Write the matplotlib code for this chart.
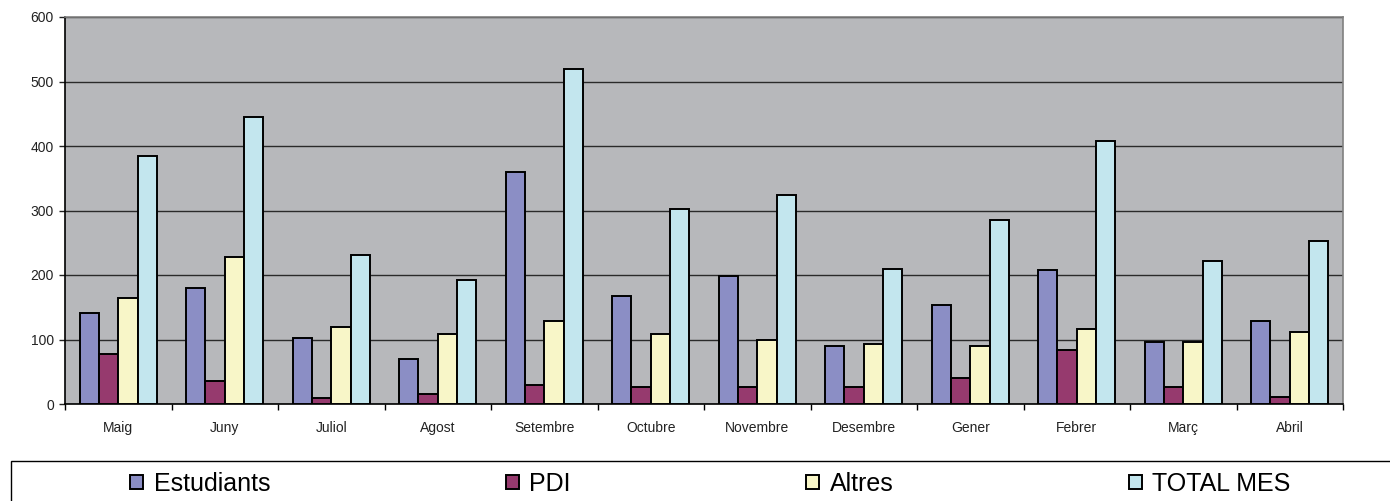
import matplotlib
matplotlib.use("Agg")
import matplotlib.pyplot as plt
import matplotlib.patches as patches
import numpy as np

plt.rcParams['font.family'] = ['Liberation Sans', 'DejaVu Sans']

mesos = ['Maig', 'Juny', 'Juliol', 'Agost', 'Setembre', 'Octubre', 'Novembre',
         'Desembre', 'Gener', 'Febrer', 'Març', 'Abril']
estudiants = [141, 180, 102, 69, 360, 168, 198, 90, 153, 207, 96, 129]
pdi = [78, 36, 9, 15, 30, 27, 27, 27, 41, 84, 27, 11]
altres = [165, 228, 120, 108, 128, 108, 99, 93, 90, 117, 96, 111]
total_mes = [384, 445, 231, 192, 519, 303, 324, 210, 285, 408, 222, 252]

series = [('Estudiants', estudiants, '#8b8ec5'),
          ('PDI', pdi, '#963a6e'),
          ('Altres', altres, '#f8f6c8'),
          ('TOTAL MES', total_mes, '#c3e6ee')]

fig = plt.figure(figsize=(13.9, 5.01), dpi=100)
ax = fig.add_axes([65/1390, 97/501, (1343-65)/1390, (404-17)/501])
ax.set_facecolor('#b7b8bb')

x = np.arange(len(mesos))
w = 0.181
for i, (nom, vals, col) in enumerate(series):
	ax.bar(x + (i - 1.5)*w, vals, w, color=col, edgecolor='black', linewidth=1.4,
	       label=nom, zorder=3)

ax.set_xlim(-0.5, len(mesos) - 0.5)
ax.set_ylim(0, 600)
ax.set_yticks(range(0, 601, 100))
ax.yaxis.grid(True, color='#2a2a2a', linewidth=1.0, zorder=1)
ax.set_axisbelow(True)

ax.set_xticks(x)
ax.set_xticklabels(mesos)
ax.set_xticks(np.arange(-0.5, len(mesos)), minor=True)
ax.tick_params(axis='x', which='major', length=0, pad=12, labelsize=10, colors='#222222')
ax.tick_params(axis='x', which='minor', length=4, width=1, direction='out')
ax.tick_params(axis='y', length=4, width=1, pad=4, labelsize=10, colors='#222222')

ax.spines['left'].set_color('black')
ax.spines['bottom'].set_color('black')
ax.spines['top'].set_color('#808080')
ax.spines['right'].set_color('#808080')
for s in ax.spines.values():
	s.set_linewidth(1.2)

# caixa de la llegenda (surt per la dreta i per sota)
caixa = patches.Rectangle((11/1390, -0.2), 1.2, 0.2 + 40/501, transform=fig.transFigure,
                          fill=False, edgecolor='black', linewidth=1.0, clip_on=False)
fig.add_artist(caixa)

leg = fig.legend(loc='center left', bbox_to_anchor=(130/1390, 17/501), ncol=4,
                 frameon=False, fontsize=18, handlelength=0.52, handleheight=0.52,
                 handletextpad=0.42, columnspacing=9.42, borderaxespad=0, borderpad=0)

fig.savefig('out.png', dpi=100)
